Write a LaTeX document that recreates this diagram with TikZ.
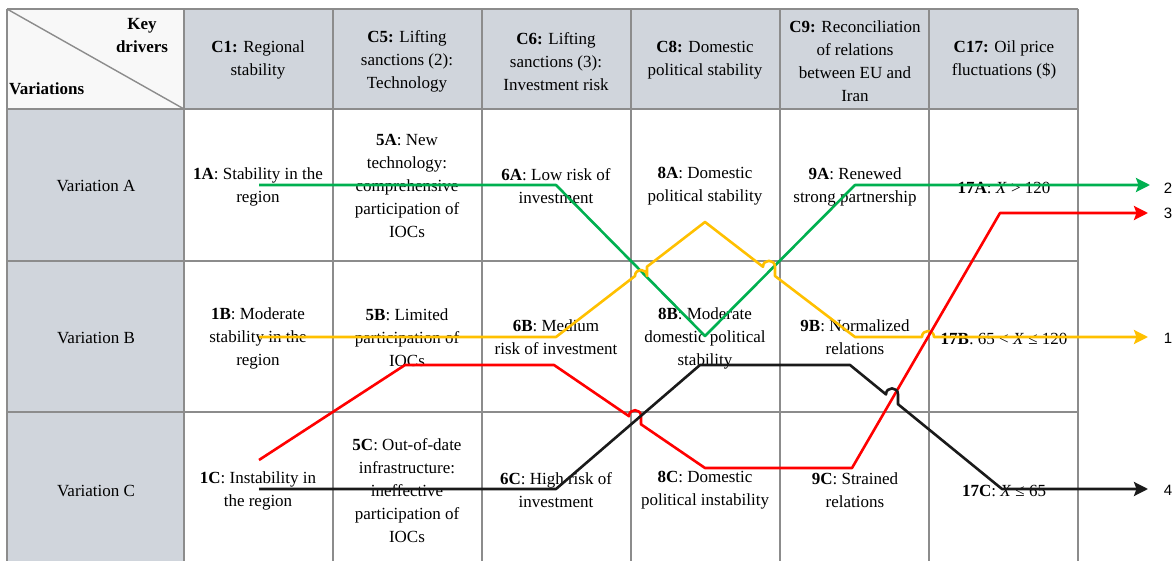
\documentclass[tikz,border=0pt]{standalone}
\usepackage{fontspec}
\newfontfamily\cellserif{Liberation Serif}[Ligatures={TeX,NoCommon}]
\newfontfamily\labelsans{Liberation Sans}
\usetikzlibrary{arrows.meta}
\definecolor{hdrgray}{HTML}{D0D5DC}
\definecolor{gridgray}{HTML}{8C8C8C}
\definecolor{cornerfill}{HTML}{F8F8F8}
\definecolor{lgreen}{HTML}{00B050}
\definecolor{lyellow}{HTML}{FFC000}
\definecolor{lred}{HTML}{FF0000}
\definecolor{lblack}{HTML}{1A1A1A}
\begin{document}
\begin{tikzpicture}[x=1pt,y=-1pt,
  cell/.style={align=center,font=\cellserif\fontsize{17}{23}\selectfont},
  boldcell/.style={align=center,font=\cellserif\fontsize{17}{23}\selectfont\bfseries},
  grid/.style={draw=gridgray,line width=1.4pt},
  route/.style={line width=2.6pt,line join=round,-{Stealth[length=14pt,width=14pt,inset=2.5pt]}},
  endlabel/.style={font=\labelsans\fontsize{15}{18}\selectfont}]
\useasboundingbox (0,0) rectangle (1176,561);
% fills
\fill[cornerfill] (7,9) rectangle (184,109);
\fill[hdrgray] (184,9) rectangle (1078,109);
\fill[hdrgray] (7,109) rectangle (184,561);
% grid
\foreach \y in {9,109,261,412} \draw[grid] (7,\y) -- (1078,\y);
\foreach \x in {7,184,333,482,631,780,929,1078} \draw[grid] (\x,9) -- (\x,561);
\draw[grid] (7,9) -- (184,109);
% row A
\node[cell] (vA) at (96,186) {Variation A};
\node[cell] (c1A) at (258,186.5) {\textbf{1A}: Stability in the\\region};
\node[cell] (c5A) at (407,186) {\textbf{5A}: New\\technology:\\comprehensive\\participation of\\IOCs};
\node[cell] (c6A) at (556,186.5) {\textbf{6A}: Low risk of\\investment};
\node[cell] (c8A) at (705,186.5) {\textbf{8A}: Domestic\\political stability};
\node[cell] (c9A) at (855,186.5) {\textbf{9A}: Renewed\\strong partnership};
\node[cell] (c17A) at (1004,188) {\textbf{17A}: \textit{X} > 120};
% row B
\node[cell] (vB) at (96,338) {Variation B};
\node[cell] (c1B) at (258,338) {\textbf{1B}: Moderate\\stability in the\\region};
\node[cell] (c5B) at (407,338) {\textbf{5B}: Limited\\participation of\\IOCs};
\node[cell] (c6B) at (556,337.5) {\textbf{6B}: Medium\\risk of investment};
\node[cell] (c8B) at (705,338) {\textbf{8B}: Moderate\\domestic political\\stability};
\node[cell] (c9B) at (855,337.5) {\textbf{9B}: Normalized\\relations};
\node[cell] (c17B) at (1004,339) {\textbf{17B}: 65 < \textit{X} ≤ 120};
% row C
\node[cell] (vC) at (96,491) {Variation C};
\node[cell] (c1C) at (258,490.5) {\textbf{1C}: Instability in\\the region};
\node[cell] (c5C) at (407,491) {\textbf{5C}: Out-of-date\\infrastructure:\\ineffective\\participation of\\IOCs};
\node[cell] (c6C) at (556,490.5) {\textbf{6C}: High risk of\\investment};
\node[cell] (c8C) at (705,490.5) {\textbf{8C}: Domestic\\political instability};
\node[cell] (c9C) at (855,490.5) {\textbf{9C}: Strained\\relations};
\node[cell] (c17C) at (1004,491) {\textbf{17C}: \textit{X} ≤ 65};
% header
\node[cell] (hC1) at (258,60) {\textbf{C1:} Regional\\stability};
\node[cell] (hC5) at (407,61.5) {\textbf{C5:} Lifting\\sanctions (2):\\Technology};
\node[cell] (hC6) at (556,62) {\textbf{C6:} Lifting\\sanctions (3):\\Investment risk};
\node[cell] (hC8) at (705,60) {\textbf{C8:} Domestic\\political stability};
\node[cell] (hC9) at (855,61) {\textbf{C9:} Reconciliation\\of relations\\between EU and\\Iran};
\node[cell] (hC17) at (1004,60) {\textbf{C17:} Oil price\\fluctuations (\$)};
\node[boldcell] (kd) at (142,36) {Key\\drivers};
\node[boldcell,anchor=west,inner sep=0pt] (var) at (9,89) {Variations};
% end labels
\node[endlabel] (n2) at (1168,188) {2};
\node[endlabel] (n3) at (1168,213) {3};
\node[endlabel] (n1) at (1168,338) {1};
\node[endlabel] (n4) at (1168,490) {4};
% route coordinates
\coordinate (gS) at (259,185); \coordinate (gE) at (1150,185);
\coordinate (yS) at (259,337); \coordinate (yE) at (1148,337);
\coordinate (rS) at (259,460); \coordinate (rE) at (1148,213);
\coordinate (bS) at (259,489); \coordinate (bE) at (1148,489);
% routes
\draw[route,lgreen] (gS) -- (556,185) -- (705,336) -- (855,185) -- (gE);
\draw[route,lyellow] (yS) -- (556,337) -- (635,276)
   .. controls (635,268) and (647,268) .. (647,276) -- (647,266.7) -- (705,222)
   -- (763,266.8) .. controls (763,258.8) and (775,258.8) .. (775,266.8) -- (775,276)
   -- (855,337) -- (922,337) .. controls (922,329) and (934,329) .. (934,337) -- (yE);
\draw[route,lred] (rS) -- (405,365) -- (554,365) -- (629,416.2)
   .. controls (629,408.2) and (641,408.2) .. (641,416.2) -- (641,424.3) -- (705,468)
   -- (852,468) -- (1000,213) -- (rE);
\draw[route,lblack] (bS) -- (556,489) -- (700,365) -- (850,365) -- (886,394.4)
   .. controls (886,386.4) and (898,386.4) .. (898,394.4) -- (898,404.2) -- (1002,489) -- (bE);
\end{tikzpicture}
\end{document}
